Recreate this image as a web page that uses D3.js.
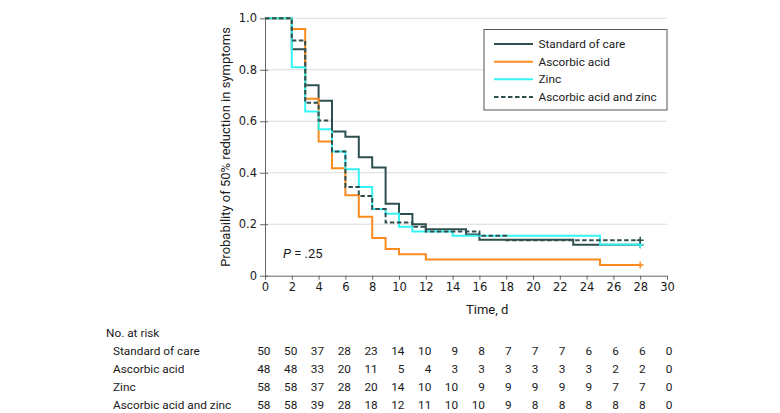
<!DOCTYPE html>
<html>
<head>
<meta charset="utf-8">
<script src="https://cdn.jsdelivr.net/npm/d3@7"></script>
<style>
  html, body { margin: 0; padding: 0; background: #fff; }
  svg { display: block; font-family: Roboto, "Open Sans", sans-serif; }
</style>
</head>
<body>
<svg id="chart" width="780" height="413"></svg>
<script>
// ---- Data ----
const seriesNames = ["Standard of care", "Ascorbic acid", "Zinc", "Ascorbic acid and zinc"];

const socTimes = [0, 2, 3, 4, 5, 6, 7, 8, 9, 10, 11, 12, 15, 16, 23, 28];
const socSurv  = [1, 0.88, 0.74, 0.68, 0.56, 0.54, 0.46, 0.42, 0.28, 0.24, 0.20, 0.18, 0.16, 0.14, 0.12, 0.12];

const aaTimes = [0, 2, 3, 4, 5, 6, 7, 8, 9, 10, 12, 25, 28];
const aaSurv  = [1, 0.958, 0.6875, 0.521, 0.417, 0.3125, 0.229, 0.146, 0.104, 0.083, 0.0625, 0.0417, 0.0417];

const zincTimes = [0, 2, 3, 4, 5, 6, 7, 8, 9, 10, 11, 14, 25, 28];
const zincSurv  = [1, 0.81, 0.638, 0.569, 0.483, 0.414, 0.345, 0.259, 0.241, 0.19, 0.172, 0.155, 0.121, 0.121];

const aazTimes = [0, 2, 3, 4, 5, 6, 7, 8, 9, 11, 12, 16, 18, 28];
const aazSurv  = [1, 0.914, 0.672, 0.603, 0.483, 0.345, 0.31, 0.259, 0.207, 0.19, 0.172, 0.155, 0.138, 0.138];

const riskDays  = [0, 2, 4, 6, 8, 10, 12, 14, 16, 18, 20, 22, 24, 26, 28, 30];
const riskSoC   = [50, 50, 37, 28, 23, 14, 10, 9, 8, 7, 7, 7, 6, 6, 6, 0];
const riskAA    = [48, 48, 33, 20, 11, 5, 4, 3, 3, 3, 3, 3, 3, 2, 2, 0];
const riskZinc  = [58, 58, 37, 28, 20, 14, 10, 10, 9, 9, 9, 9, 9, 7, 7, 0];
const riskAAZ   = [58, 58, 39, 28, 18, 12, 11, 10, 10, 9, 8, 8, 8, 8, 8, 0];

const xTicks = [0, 2, 4, 6, 8, 10, 12, 14, 16, 18, 20, 22, 24, 26, 28, 30];
const yTicks = [0, 0.2, 0.4, 0.6, 0.8, 1.0];
const yTickLabels = ["0", "0.2", "0.4", "0.6", "0.8", "1.0"];

// ---- Styling ----
const colors = ["#2f4f4e", "#fb8a1e", "#36f3f3", "#2f4f4e"];
const dashes = [null, null, null, "4.5,2.5"];
const textColor = "#1a1a1a";
const tickFont = "'DejaVu Sans', sans-serif";
const bodySize = 11.8;

const svg = d3.select("#chart");
const x = d3.scaleLinear().domain([0, 30]).range([265, 667]);
const y = d3.scaleLinear().domain([0, 1]).range([275.7, 18.3]);

// gridlines
svg.append("g").selectAll("line")
  .data(yTicks.filter(d => d > 0))
  .join("line")
  .attr("x1", x(0)).attr("x2", x(30))
  .attr("y1", d => y(d)).attr("y2", d => y(d))
  .attr("stroke", "#dcdcdc").attr("stroke-width", 1);

// axes
const axisColor = "#666";
const yAxis = d3.axisLeft(y).tickValues(yTicks).tickFormat((d, i) => yTickLabels[i])
  .tickSizeInner(5).tickSizeOuter(0).tickPadding(3);
const gy = svg.append("g").attr("transform", `translate(${x(0)},0)`).call(yAxis);
gy.select(".domain").attr("stroke", axisColor);
gy.selectAll(".tick line").attr("stroke", axisColor).attr("x1", 3);
gy.selectAll(".tick text").attr("font-size", 11.5).attr("fill", textColor).attr("font-family", tickFont);

const xAxis = d3.axisBottom(x).tickValues(xTicks).tickSizeInner(4).tickSizeOuter(0).tickPadding(3);
const gx = svg.append("g").attr("transform", `translate(0,${y(0)})`).call(xAxis);
gx.select(".domain").attr("stroke", axisColor);
gx.selectAll(".tick line").attr("stroke", axisColor);
gx.selectAll(".tick text").attr("font-size", 11.5).attr("fill", textColor).attr("font-family", tickFont);

// axis titles
svg.append("text")
  .attr("transform", `translate(230,${(y(0) + y(1)) / 2}) rotate(-90)`)
  .attr("text-anchor", "middle")
  .attr("font-size", 13).attr("fill", textColor)
  .text("Probability of 50% reduction in symptoms");

svg.append("text")
  .attr("x", 466).attr("y", 314)
  .attr("font-size", 13).attr("fill", textColor)
  .text("Time, d");

// curves
const allTimes = [socTimes, aaTimes, zincTimes, aazTimes];
const allSurv = [socSurv, aaSurv, zincSurv, aazSurv];
const line = d3.line().x(d => x(d[0])).y(d => y(d[1])).curve(d3.curveStepAfter);

allTimes.forEach((times, i) => {
  const pts = times.map((t, j) => [t, allSurv[i][j]]);
  svg.append("path")
    .attr("d", line(pts))
    .attr("fill", "none")
    .attr("stroke", colors[i])
    .attr("stroke-width", 2)
    .attr("stroke-dasharray", dashes[i]);
  const last = pts[pts.length - 1];
  const cx = x(last[0]), cy = y(last[1]);
  svg.append("path")
    .attr("d", `M${cx - 3.5},${cy}H${cx + 3.5}M${cx},${cy - 3.5}V${cy + 3.5}`)
    .attr("stroke", colors[i]).attr("stroke-width", 1.5);
});

// P value
const pText = svg.append("text").attr("x", 283).attr("y", 258).attr("font-size", 13).attr("fill", textColor);
pText.append("tspan").attr("font-style", "italic").text("P");
pText.append("tspan").text(" = .25");

// legend
const lg = svg.append("g");
lg.append("rect").attr("x", 484).attr("y", 29.5).attr("width", 183).attr("height", 80.5)
  .attr("fill", "#fff").attr("stroke", "#555").attr("stroke-width", 1);
const legendY = [44, 61.7, 79.3, 97];
seriesNames.forEach((name, i) => {
  lg.append("line").attr("x1", 494).attr("x2", 533).attr("y1", legendY[i]).attr("y2", legendY[i])
    .attr("stroke", colors[i]).attr("stroke-width", 2).attr("stroke-dasharray", dashes[i]);
  lg.append("text").attr("x", 538.5).attr("y", legendY[i]).attr("dy", "0.35em")
    .attr("font-size", bodySize).attr("fill", textColor).text(name);
});

// number at risk table
const tableY0 = 332.5, rowH = 18;
svg.append("text").attr("x", 106).attr("y", tableY0).attr("dy", "0.35em")
  .attr("font-size", bodySize).attr("fill", textColor).text("No. at risk");
const riskRows = [riskSoC, riskAA, riskZinc, riskAAZ];
riskRows.forEach((row, i) => {
  const ry = tableY0 + rowH * (i + 1);
  svg.append("text").attr("x", 113).attr("y", ry).attr("dy", "0.35em")
    .attr("font-size", bodySize).attr("fill", textColor).text(seriesNames[i]);
  svg.append("g").selectAll("text").data(row).join("text")
    .attr("x", (d, j) => x(riskDays[j]) + 5.5)
    .attr("y", ry).attr("dy", "0.35em")
    .attr("text-anchor", "end")
    .attr("font-size", bodySize).attr("fill", textColor)
    .text(d => d);
});
</script>
</body>
</html>
